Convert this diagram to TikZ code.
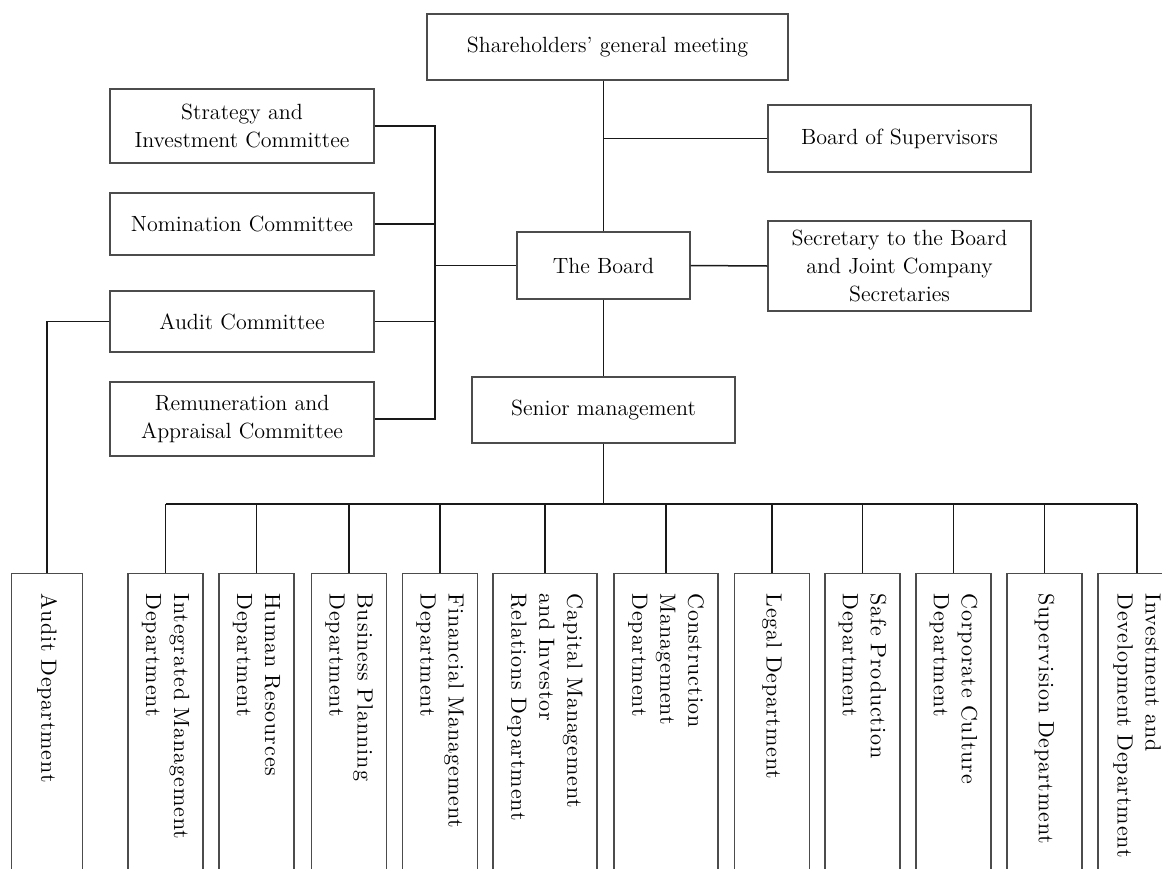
\documentclass[tikz,border=0pt]{standalone}
\usepackage{fontspec}
\usepackage{tikz}
\usetikzlibrary{positioning}
\newfontfamily\deptfont{lmroman10-regular.otf}[LetterSpace=4]
\tikzstyle{block} = [rectangle, draw=black!70, line width=0.55pt, align=center,
inner sep=2pt, font=\fontsize{11}{14}\selectfont]
\tikzstyle{dept} = [rectangle, draw=black!70, line width=0.55pt, rotate=-90, anchor=west,
align=left, inner xsep=10pt, inner ysep=1pt, text width=150pt,
font=\deptfont\fontsize{11}{14}\selectfont]
\tikzstyle{line} = [draw, black!90, line width=0.75pt]

\begin{document}
\begin{tikzpicture}[x=0.5pt, y=-0.5pt]
	\useasboundingbox (0,0) rectangle (1162,868);
	\clip (0,0) rectangle (1162,868);
	
	\node [block, minimum width=180.5pt, minimum height=33pt] (sgm) at (607.5,47) {Shareholders' general meeting};
	\node [block, minimum width=131.5pt, minimum height=33.5pt] (sup) at (899.5,138.5) {Board of Supervisors};
	\node [block, minimum width=86.5pt, minimum height=33.5pt] (board) at (603.5,265.5) {The Board};
	\node [block, minimum width=131.5pt, minimum height=45pt] (sec) at (899.5,266) {Secretary to the Board\\and Joint Company\\Secretaries};
	\node [block, minimum width=131.5pt, minimum height=33pt] (senior) at (603.5,410) {Senior management};
	
	% committees
	\node [block, minimum width=132pt, minimum height=37pt] (strat) at (242,126) {Strategy and\\Investment Committee};
	\node [block, minimum width=132pt, minimum height=31pt] (nom) at (242,224) {Nomination Committee};
	\node [block, minimum width=132pt, minimum height=30.5pt] (audc) at (242,321.5) {Audit Committee};
	\node [block, minimum width=132pt, minimum height=37pt] (rem) at (242,419) {Remuneration and\\Appraisal Committee};
	
	% departments
	\node [dept, minimum height=35.5pt] (auddept) at (47,573) {Audit Department};
	\node [dept, minimum height=37.5pt] (integ) at (165.5,573) {Integrated Management\\Department};
	\node [dept, minimum height=37.5pt] (hr) at (256.5,573) {Human Resources\\Department};
	\node [dept, minimum height=37.5pt] (bp) at (349,573) {Business Planning\\Department};
	\node [dept, minimum height=37.5pt] (fin) at (440,573) {Financial Management\\Department};
	\node [dept, minimum height=52pt] (cap) at (545,573) {Capital Management\\and Investor\\Relations Department};
	\node [dept, minimum height=52pt] (cons) at (666,573) {Construction\\Management\\Department};
	\node [dept, minimum height=37.5pt] (legal) at (772,573) {Legal Department};
	\node [dept, minimum height=37.5pt] (safe) at (862.5,573) {Safe Production\\Department};
	\node [dept, minimum height=37.5pt] (corp) at (953.5,573) {Corporate Culture\\Department};
	\node [dept, minimum height=37.5pt] (supv) at (1044.5,573) {Supervision Department};
	\node [dept, minimum height=39pt] (inv) at (1137,573) {Investment and\\Development Department};
	
	\coordinate (cbus) at (435,265.5);
	\coordinate (dbus) at (603.5,504);
	
	% Draw edges
	\path [line] (board.north |- sgm.south) -- (board.north);
	\path [line] (sup.west) -- (sup.west -| board.north);
	\path [line] (board.east) -- (sec.west);
	\path [line] (board.south) -- (senior.north);
	\path [line] (strat.east) -| (cbus);
	\path [line] (rem.east) -| (cbus);
	\path [line] (nom.east) -- (nom.east -| cbus);
	\path [line] (audc.east) -- (audc.east -| cbus);
	\path [line] (cbus) -- (board.west);
	\path [line] (audc.west) -| (auddept.west);
	\path [line] (senior.south) -- (dbus);
	\path [line] (integ.west |- dbus) -- (inv.west |- dbus);
	\path [line] (integ.west) -- (integ.west |- dbus);
	\path [line] (hr.west) -- (hr.west |- dbus);
	\path [line] (bp.west) -- (bp.west |- dbus);
	\path [line] (fin.west) -- (fin.west |- dbus);
	\path [line] (cap.west) -- (cap.west |- dbus);
	\path [line] (cons.west) -- (cons.west |- dbus);
	\path [line] (legal.west) -- (legal.west |- dbus);
	\path [line] (safe.west) -- (safe.west |- dbus);
	\path [line] (corp.west) -- (corp.west |- dbus);
	\path [line] (supv.west) -- (supv.west |- dbus);
	\path [line] (inv.west) -- (inv.west |- dbus);
	
\end{tikzpicture}
\end{document}
